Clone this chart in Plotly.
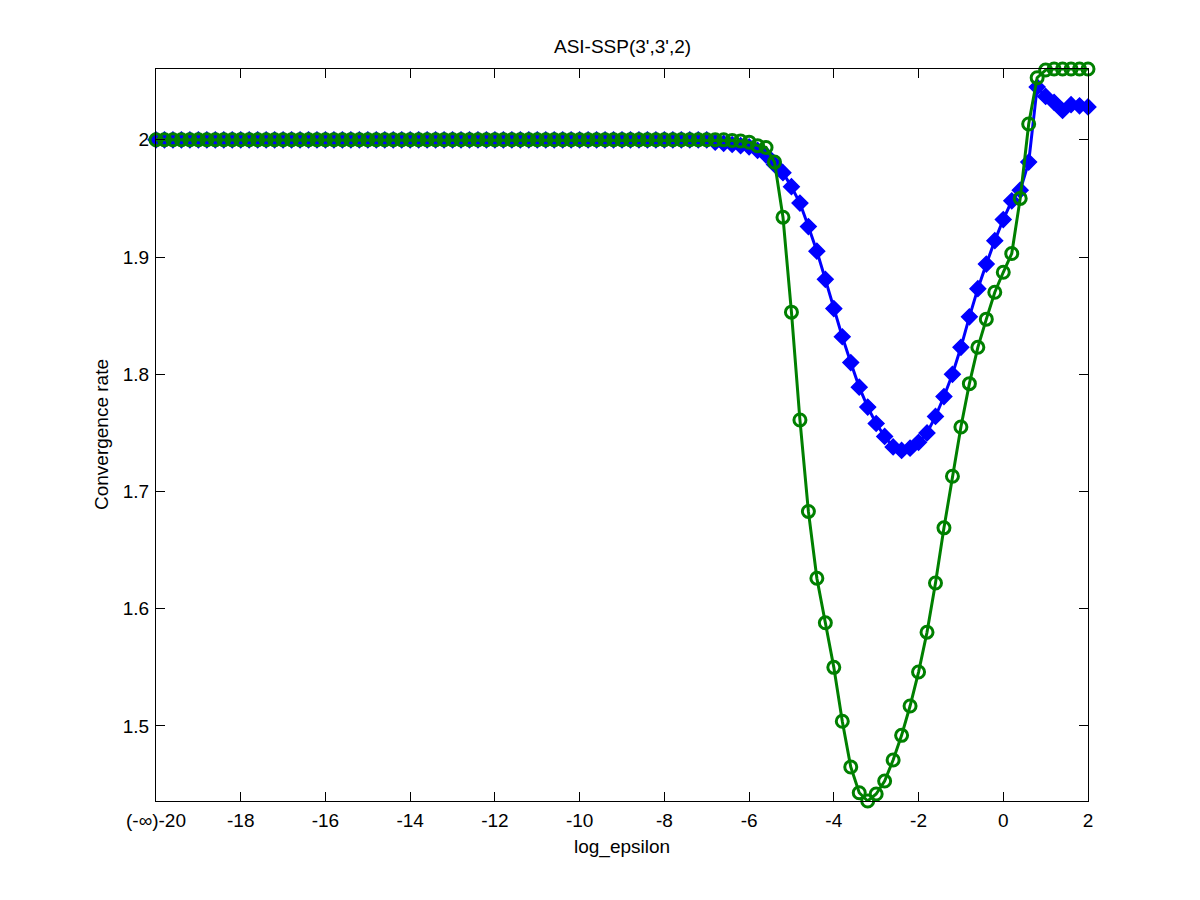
import plotly.graph_objects as go

# x grid: log_epsilon from -20 to 2, step 0.2 (111 points)
log_eps = [round(-20 + 0.2 * i, 1) for i in range(111)]

# blue diamonds (flat at 2 up to -7.0)
rate_blue = [2.0] * 66 + [
    1.998, 1.997, 1.996, 1.995, 1.994, 1.991, 1.987, 1.979, 1.972, 1.960,
    1.946, 1.926, 1.905, 1.881, 1.856, 1.832, 1.810, 1.789, 1.772, 1.758,
    1.747, 1.738, 1.735, 1.737, 1.742, 1.750, 1.764, 1.781, 1.800, 1.823,
    1.849, 1.873, 1.894, 1.914, 1.932, 1.948, 1.957, 1.981, 2.045, 2.037,
    2.032, 2.025, 2.030, 2.029, 2.028,
]

# green circles (flat at 2 up to -6.6)
rate_green = [2.0] * 68 + [
    1.9995, 1.999, 1.998, 1.995, 1.9935, 1.981, 1.934, 1.853, 1.761, 1.683,
    1.626, 1.588, 1.550, 1.504, 1.465, 1.443, 1.436, 1.442, 1.453, 1.471,
    1.492, 1.517, 1.546, 1.580, 1.622, 1.669, 1.713, 1.755, 1.792, 1.823,
    1.847, 1.870, 1.887, 1.903, 1.950, 2.0135, 2.053, 2.0595,
    2.0604, 2.0604, 2.0604, 2.0604, 2.0604,
]

x_ticks = [-20, -18, -16, -14, -12, -10, -8, -6, -4, -2, 0, 2]
x_ticktext = ["(-\u221e)-20"] + [str(v) for v in x_ticks[1:]]
y_ticks = [1.5, 1.6, 1.7, 1.8, 1.9, 2.0]
y_ticktext = ["1.5", "1.6", "1.7", "1.8", "1.9", "2"]

fig = go.Figure()

fig.add_trace(go.Scatter(
    x=log_eps, y=rate_blue,
    mode="lines+markers",
    line=dict(color="#0000ff", width=3),
    marker=dict(symbol="diamond", size=12, color="#0000ff",
                line=dict(color="#0000ff", width=1.5)),
    cliponaxis=False,
    showlegend=False,
))

fig.add_trace(go.Scatter(
    x=log_eps, y=rate_green,
    mode="lines+markers",
    line=dict(color="#008000", width=3),
    marker=dict(symbol="circle-open", size=12, color="#008000",
                line=dict(color="#008000", width=3)),
    cliponaxis=False,
    showlegend=False,
))

font = dict(family="Liberation Sans, Arial", size=19, color="black")

axis_common = dict(
    showgrid=False, zeroline=False,
    showline=True, linecolor="black", linewidth=1,
    mirror="ticks", ticks="inside", ticklen=9, tickcolor="black",
    tickfont=font,
)

# page body adds ~7px offset, so margins are shifted to compensate
fig.update_layout(
    width=1200, height=900,
    margin=dict(l=148, r=120, t=61, b=107),
    plot_bgcolor="white", paper_bgcolor="white",
    xaxis=dict(range=[-20, 2], tickvals=x_ticks, ticktext=x_ticktext,
               ticklabelstandoff=2, **axis_common),
    yaxis=dict(range=[1.436, 2.0604], tickvals=y_ticks, ticktext=y_ticktext,
               ticklabelstandoff=2, **axis_common),
    annotations=[
        dict(text="ASI-SSP(3',3',2)", xref="paper", yref="paper",
             x=0.5, y=1.0314, xanchor="center", yanchor="middle",
             showarrow=False, font=font),
        dict(text="log_epsilon", xref="paper", yref="paper",
             x=0.5, y=-0.0628, xanchor="center", yanchor="middle",
             showarrow=False, font=font),
        dict(text="Convergence rate", xref="paper", yref="paper",
             x=-0.059, y=0.5, xanchor="center", yanchor="middle",
             textangle=-90, showarrow=False, font=font),
    ],
)

fig.write_html("out.html")
